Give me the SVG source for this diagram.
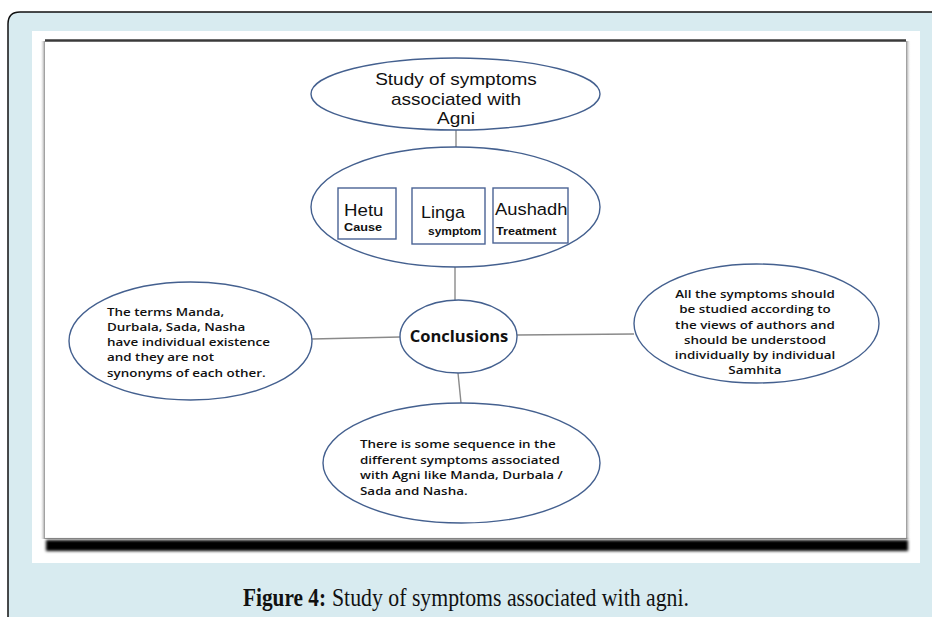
<svg xmlns="http://www.w3.org/2000/svg" width="932" height="617" viewBox="0 0 932 617">
<style>
  .ell { fill: #ffffff; stroke: #44608f; stroke-width: 1.4; }
  .box { fill: #ffffff; stroke: #4a6394; stroke-width: 1.4; }
  .con { stroke: #8a8a8a; stroke-width: 1.4; fill: none; }
  .t { font-family: "Open Sans", Lato, "Liberation Sans", sans-serif; fill: #111111; }
  .ls { font-family: "Liberation Sans", Arial, sans-serif; fill: #111111; }
  .big { font-size: 17px; }
  .lbl { font-size: 17px; }
  .sub { font-size: 11.5px; font-weight: 700; }
  .body { font-size: 11px; font-weight: 600; }
  .cap { font-family: "Liberation Serif", serif; font-size: 25px; fill: #111111; }
</style>
<defs>
  <linearGradient id="lsh" x1="0" y1="0" x2="1" y2="0">
    <stop offset="0" stop-color="#ffffff" stop-opacity="0"/>
    <stop offset="1" stop-color="#8c8c8c"/>
  </linearGradient>
  <linearGradient id="rsh" x1="0" y1="0" x2="1" y2="0">
    <stop offset="0" stop-color="#8c8c8c"/>
    <stop offset="1" stop-color="#ffffff" stop-opacity="0"/>
  </linearGradient>
  <filter id="blur" x="-5%" y="-50%" width="110%" height="200%">
    <feGaussianBlur stdDeviation="1.6"/>
  </filter>
</defs>

<g id="frame">
  <path d="M8,617 V24 Q8,12 20,12 H932 V617 Z" fill="#d8ebf0"/>
  <path d="M8,617 V24 Q8,12 20,12 H932" fill="none" stroke="#111111" stroke-width="1.5"/>
  <rect x="32" y="31" width="888" height="532" fill="#ffffff"/>
  <rect x="40" y="41" width="5" height="498" fill="url(#lsh)"/>
  <rect x="906" y="41" width="5" height="498" fill="url(#rsh)"/>
  <line x1="45" y1="40.5" x2="906" y2="40.5" stroke="#3a3a3a" stroke-width="2.5"/>
  <line x1="45" y1="538.5" x2="907" y2="538.5" stroke="#9a9a9a" stroke-width="1.2"/>
  <rect x="46" y="540" width="862" height="11" fill="#000000" filter="url(#blur)"/>
</g>

<g id="connectors">
  <line class="con" x1="456" y1="130" x2="456" y2="147"/>
  <line class="con" x1="456" y1="147" x2="380" y2="188"/>
  <line class="con" x1="456" y1="147" x2="448" y2="188"/>
  <line class="con" x1="456" y1="147" x2="530" y2="188"/>
  <line class="con" x1="455" y1="267" x2="455" y2="300"/>
  <line class="con" x1="312" y1="339" x2="400" y2="337"/>
  <line class="con" x1="517" y1="335" x2="634" y2="334"/>
  <line class="con" x1="458" y1="373" x2="461" y2="403"/>
</g>

<g id="node-top">
  <ellipse class="ell" cx="455.5" cy="94" rx="144.5" ry="36"/>
  <text class="ls big" text-anchor="middle" transform="translate(456 0) scale(1.12 1)"><tspan x="0" y="85.5">Study of symptoms</tspan><tspan x="0" y="105">associated with</tspan><tspan x="0" y="124.5">Agni</tspan></text>
</g>

<g id="node-group">
  <ellipse class="ell" cx="455.5" cy="207" rx="144.5" ry="60"/>
</g>

<g id="node-hetu">
  <rect class="box" x="338" y="188" width="58" height="51"/>
  <text class="ls lbl" transform="translate(344 0) scale(1.1 1)"><tspan x="0" y="216">Hetu</tspan><tspan class="sub" x="0" y="231">Cause</tspan></text>
</g>

<g id="node-linga">
  <rect class="box" x="412" y="188" width="73" height="56"/>
  <text class="ls lbl" transform="translate(421 0) scale(1.06 1)"><tspan x="0" y="218">Linga</tspan></text>
  <text class="ls sub" transform="translate(428 0) scale(1.04 1)"><tspan x="0" y="235">symptom</tspan></text>
</g>

<g id="node-aushadh">
  <rect class="box" x="493" y="188" width="75" height="55"/>
  <text class="ls lbl" transform="translate(495 0) scale(1.08 1)"><tspan x="0" y="215">Aushadh</tspan></text>
  <text class="ls sub" transform="translate(496 0) scale(1.1 1)" font-size="12.5"><tspan x="0" y="235">Treatment</tspan></text>
</g>

<g id="node-conclusions">
  <ellipse class="ell" cx="458.5" cy="336.5" rx="58.5" ry="36.5"/>
  <text class="t" x="459" y="342" text-anchor="middle" font-size="16.5" font-weight="700">Conclusions</text>
</g>

<g id="node-left">
  <ellipse class="ell" cx="190.5" cy="341" rx="121.5" ry="59"/>
  <text class="t body" transform="translate(107 0) scale(1.22 1)"><tspan x="0" y="316">The terms Manda,</tspan><tspan x="0" y="331">Durbala, Sada, Nasha</tspan><tspan x="0" y="346">have individual existence</tspan><tspan x="0" y="361">and they are not</tspan><tspan x="0" y="377">synonyms of each other.</tspan></text>
</g>

<g id="node-right">
  <ellipse class="ell" cx="756.5" cy="323.5" rx="122.5" ry="59.5"/>
  <text class="t body" text-anchor="middle" transform="translate(755 0) scale(1.22 1)"><tspan x="0" y="298">All the symptoms should</tspan><tspan x="0" y="313">be studied according to</tspan><tspan x="0" y="329">the views of authors and</tspan><tspan x="0" y="344">should be understood</tspan><tspan x="0" y="359">individually by individual</tspan><tspan x="0" y="374">Samhita</tspan></text>
</g>

<g id="node-bottom">
  <ellipse class="ell" cx="461.5" cy="463" rx="138.5" ry="60"/>
  <text class="t body" transform="translate(360 0) scale(1.22 1)"><tspan x="0" y="448">There is some sequence in the</tspan><tspan x="0" y="464">different symptoms associated</tspan><tspan x="0" y="479">with Agni like Manda, Durbala /</tspan><tspan x="0" y="495">Sada and Nasha.</tspan></text>
</g>

<g id="caption">
  <text class="cap" x="243" y="606" font-weight="700" textLength="83" lengthAdjust="spacingAndGlyphs">Figure 4:</text>
  <text class="cap" x="332" y="606" textLength="357" lengthAdjust="spacingAndGlyphs">Study of symptoms associated with agni.</text>
</g>
</svg>
